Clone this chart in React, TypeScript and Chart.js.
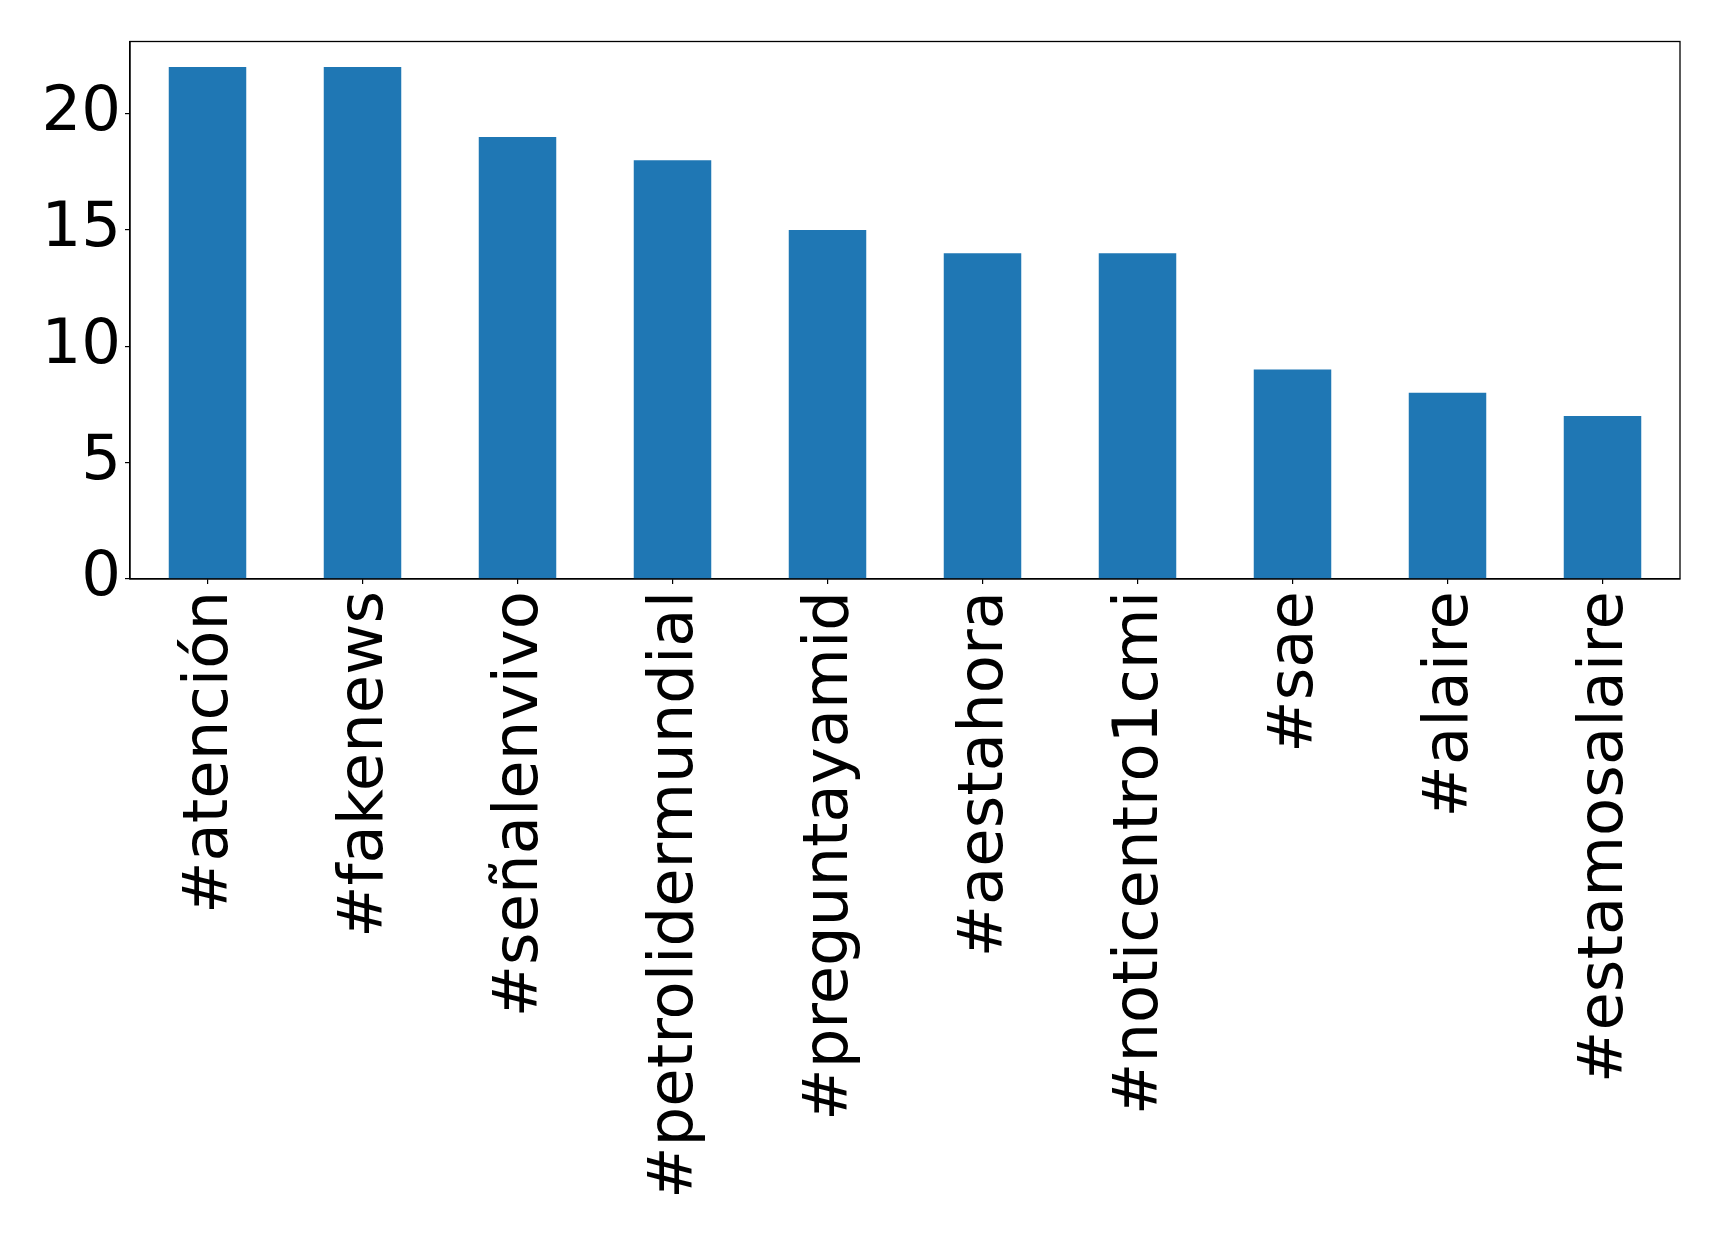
import React, { useEffect, useRef } from "react";
import { Chart, registerables } from "chart.js";

Chart.register(...registerables);

const categories = [
  "#atención",
  "#fakenews",
  "#señalenvivo",
  "#petrolidermundial",
  "#preguntayamid",
  "#aestahora",
  "#noticentro1cmi",
  "#sae",
  "#alaire",
  "#estamosalaire",
];
const counts = [22, 22, 19, 18, 15, 14, 14, 9, 8, 7];
const yTickStep = 5;
const yMax = 23.1;

const W = 1719;
const H = 1236;

const framePlugin = {
  id: "frame",
  afterDraw(chart: any) {
    const { ctx, chartArea } = chart;
    ctx.save();
    ctx.strokeStyle = "#000";
    ctx.lineWidth = 1.3;
    ctx.strokeRect(chartArea.left, chartArea.top, chartArea.right - chartArea.left, chartArea.bottom - chartArea.top);
    ctx.restore();
  },
};

export default function App() {
  const ref = useRef<HTMLCanvasElement>(null);
  useEffect(() => {
    if (!ref.current) return;
    const font = { family: "'DejaVu Sans', sans-serif", size: 62.5 };
    const chart = new Chart(ref.current, {
      type: "bar",
      data: {
        labels: categories,
        datasets: [
          {
            data: counts,
            backgroundColor: "#1f77b4",
            barPercentage: 0.5,
            categoryPercentage: 1,
          },
        ],
      },
      options: {
        animation: false,
        responsive: false,
        devicePixelRatio: 1,
        layout: { padding: { top: 40, right: 39, left: 0, bottom: 0 } },
        plugins: { legend: { display: false }, tooltip: { enabled: false } },
        scales: {
          x: {
            grid: { display: true, offset: false, drawOnChartArea: false, drawTicks: true, tickLength: 5, color: "#000", lineWidth: 1.2 },
            border: { display: true, color: "#000", width: 1.3 },
            ticks: {
              font,
              color: "#000",
              maxRotation: 90,
              minRotation: 90,
              autoSkip: false,
              padding: 7,
              labelOffset: 3,
            },
            afterFit(scale: any) {
              scale.height = H - 579;
            },
          },
          y: {
            min: 0,
            max: yMax,
            grid: { display: true, drawOnChartArea: false, drawTicks: true, tickLength: 5, color: "#000", lineWidth: 1.2 },
            border: { display: true, color: "#000", width: 1.3 },
            ticks: {
              font,
              color: "#000",
              stepSize: yTickStep,
              includeBounds: false,
              padding: 4,
            },
            afterFit(scale: any) {
              scale.width = 130;
            },
          },
        },
      },
      plugins: [framePlugin],
    } as any);
    return () => chart.destroy();
  }, []);
  return (
    <div style={{ position: "absolute", left: 0, top: 0, width: W, height: H, background: "#fff" }}>
      <canvas ref={ref} width={W} height={H} style={{ display: "block" }} />
    </div>
  );
}
